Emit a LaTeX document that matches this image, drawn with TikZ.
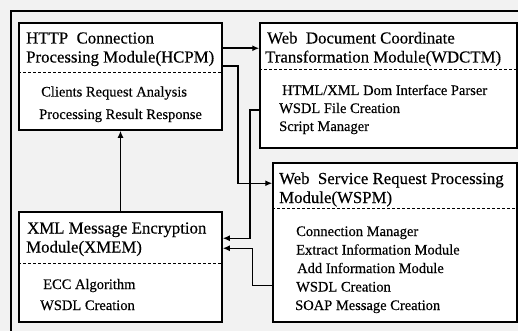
\documentclass[tikz,border=0pt]{standalone}
\usepackage{fontspec}
\setmainfont{Liberation Serif}[FakeBold=0.35]
\usetikzlibrary{arrows.meta}
\begin{document}
\begin{tikzpicture}[x=1pt,y=-1pt,
  box/.style={draw, line width=1.5pt, fill=white, inner sep=0pt, rectangle},
  divider/.style={line width=1pt, dash pattern=on 3pt off 2pt},
  conn/.style={line width=1.5pt},
  arr/.style={conn, -{Latex[length=7pt,width=6pt]}},
  ttl/.style={anchor=base west, inner sep=0pt, font=\fontsize{16.8}{19}\selectfont},
  itm/.style={anchor=base west, inner sep=0pt, font=\fontsize{14.5}{17}\selectfont}]
\fill[gray!10] (0,0) rectangle (518,331);
\useasboundingbox (0,0) rectangle (518,331);
\draw[conn] (11,331) -- (11,11) -- (518,11);
% boxes
\node[box, minimum width=203pt, minimum height=107pt] (hcpm) at (120.5,76.5) {};
\node[box, minimum width=257pt, minimum height=125pt] (wdctm) at (388.5,85.5) {};
\node[box, minimum width=203pt, minimum height=110pt] (xmem) at (120.5,267) {};
\node[box, minimum width=244pt, minimum height=159pt] (wspm) at (395,242.5) {};
% dividers
\draw[divider] ([yshift=-50pt]hcpm.north west) -- ([yshift=-50pt]hcpm.north east);
\draw[divider] ([yshift=-47pt]wdctm.north west) -- ([yshift=-47pt]wdctm.north east);
\draw[divider] ([yshift=-52pt]xmem.north west) -- ([yshift=-52pt]xmem.north east);
\draw[divider] ([yshift=-46pt]wspm.north west) -- ([yshift=-46pt]wspm.north east);
% texts HCPM
\node[ttl] (h1) at (26,43.5) {HTTP\ \ Connection};
\node[ttl] (h2) at (26,62.5) {Processing Module(HCPM)};
\node[itm] (h3) at (41,96.5) {Clients Request Analysis};
\node[itm] (h4) at (39,119) {Processing Result Response};
% texts WDCTM
\node[ttl] (w1) at (267,43.5) {Web\ \ Document Coordinate};
\node[ttl] (w2) at (265,62.5) {Transformation Module(WDCTM)};
\node[itm] (w3) at (282,95) {HTML/XML Dom Interface Parser};
\node[itm] (w4) at (279,113) {WSDL File Creation};
\node[itm] (w5) at (279,131) {Script Manager};
% texts XMEM
\node[ttl] (x1) at (27,233.5) {XML Message Encryption};
\node[ttl] (x2) at (26,252.5) {Module(XMEM)};
\node[itm] (x3) at (43,289) {ECC Algorithm};
\node[itm] (x4) at (40,310) {WSDL Creation};
% texts WSPM
\node[ttl] (s1) at (279,184) {Web\ \ Service Request Processing};
\node[ttl] (s2) at (279,203) {Module(WSPM)};
\node[itm] (s3) at (296,236) {Connection Manager};
\node[itm] (s4) at (296,254.5) {Extract Information Module};
\node[itm] (s5) at (297,273) {Add Information Module};
\node[itm] (s6) at (296,291.5) {WSDL Creation};
\node[itm] (s7) at (295,310) {SOAP Message Creation};
% routing points
\coordinate (c1) at (238,150);
\coordinate (c2) at (250,180);
\coordinate (c3) at (252.5,270);
% connectors
\draw[arr] ([yshift=-26pt]hcpm.north east) -- ([yshift=-26pt]wdctm.north west);
\draw[arr] ([yshift=-44pt]hcpm.north east) -| (c1) |- ([yshift=-21pt]wspm.north west);
\draw[arr] ([yshift=-88pt]wdctm.north west) -| (c2) |- ([yshift=-27pt]xmem.north east);
\draw[arr] ([yshift=-123pt]wspm.north west) -| (c3) |- ([yshift=-37pt]xmem.north east);
\draw[arr] (xmem.north) -- (hcpm.south);
\end{tikzpicture}
\end{document}
